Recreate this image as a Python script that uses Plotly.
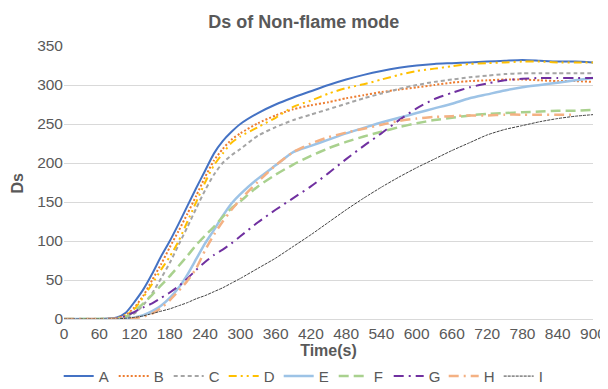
import plotly.graph_objects as go

time_s = [0, 60, 90, 105, 120, 135, 150, 165, 180, 195, 210, 225, 240, 255, 270, 285, 300,
          330, 360, 390, 420, 450, 480, 510, 540, 570, 600, 630, 660, 690, 720, 750, 780,
          810, 840, 870, 900]

A = [0, 0, 2, 8, 22, 38, 58, 80, 100, 122, 145, 168, 190, 212, 228, 240, 250,
     264, 275, 284, 292, 300, 307, 313, 318, 322, 325, 327, 328, 329, 330, 331, 332,
     331, 330, 330, 329]
B = [0, 0, 1, 5, 15, 30, 50, 70, 92, 113, 135, 158, 182, 203, 218, 230, 238,
     251, 261, 269, 274, 278, 283, 287, 291, 294, 297, 300, 303, 305, 306, 307, 307,
     306, 305, 305, 304]
C = [0, 0, 0, 2, 7, 18, 33, 52, 72, 95, 118, 142, 165, 185, 200, 210, 218,
     235, 246, 255, 262, 269, 276, 283, 289, 295, 300, 304, 307, 310, 312, 314, 315,
     315, 315, 315, 315]
D = [0, 0, 1, 5, 13, 28, 45, 63, 80, 100, 125, 150, 175, 197, 212, 226, 234,
     246, 258, 272, 280, 289, 296, 301, 307, 313, 318, 321, 324, 327, 328, 329, 330,
     330, 329, 329, 329]
E = [0, 0, 0, 0, 2, 5, 10, 17, 27, 40, 57, 77, 97, 114, 132, 148, 160,
     180, 197, 214, 222, 230, 238, 245, 252, 258, 264, 270, 276, 283, 288, 293, 297,
     300, 303, 306, 309]
F = [0, 0, 1, 3, 10, 20, 31, 43, 55, 68, 81, 95, 107, 118, 131, 142, 151,
     170, 185, 198, 209, 219, 227, 234, 240, 246, 251, 255, 258, 261, 263, 264, 265,
     266, 267, 267, 268]
G = [0, 0, 1, 4, 9, 15, 20, 27, 34, 42, 52, 63, 73, 82, 89, 97, 106,
     124, 140, 155, 170, 187, 205, 222, 238, 255, 270, 282, 290, 297, 302, 306, 308,
     309, 309, 309, 309]
H = [0, 0, 0, 0, 1, 3, 7, 14, 24, 36, 49, 65, 88, 108, 125, 140, 153,
     176, 197, 214, 225, 233, 239, 244, 249, 254, 257, 259, 260, 261, 261, 262, 262,
     262, 262, 262, None]
I = [0, 0, 0, 1, 2, 4, 7, 10, 13, 17, 21, 26, 30, 35, 40, 46, 52,
     65, 78, 93, 108, 124, 140, 155, 169, 182, 194, 205, 216, 226, 236, 243, 248,
     253, 257, 260, 262]

x_ticks = list(range(0, 901, 60))
y_ticks = list(range(0, 351, 50))

series = [
    ("A", A, "#4472C4", "solid", 2),
    ("B", B, "#ED7D31", "2px,2px", 2),
    ("C", C, "#A5A5A5", "4px,3px", 2),
    ("D", D, "#FFC000", "8px,4px,2px,4px,2px,4px", 2),
    ("E", E, "#9DC3E6", "solid", 2.5),
    ("F", F, "#A9D18E", "10px,5px", 2.5),
    ("G", G, "#7030A0", "10px,5px,2px,5px", 2),
    ("H", H, "#F4B183", "10px,5px,2px,5px", 2.5),
    ("I", I, "#404040", "3px,1px", 1),
]

fig = go.Figure()
for name, vals, color, dash, width in series:
    fig.add_trace(go.Scatter(
        x=time_s, y=vals, name=name, mode="lines",
        line=dict(color=color, dash=dash, width=width, shape="spline", smoothing=0.6),
    ))

font_family = "Liberation Sans, Arial, sans-serif"
fig.update_layout(
    width=600, height=381,
    margin=dict(l=56, r=15, t=38, b=70, autoexpand=False),
    paper_bgcolor="white", plot_bgcolor="white",
    font=dict(family=font_family, size=15, color="#595959"),
    title=dict(text="<b>Ds of Non-flame mode</b>", x=0.493, xanchor="center",
               xref="container", y=0.963, yanchor="middle", yref="container",
               font=dict(size=18, color="#595959")),
    xaxis=dict(range=[0, 900], tickvals=x_ticks, showgrid=False, zeroline=False,
               showline=True, linecolor="#D9D9D9", linewidth=1, ticks="", tickangle=0,
               automargin=False,
               title=dict(text="<b>Time(s)</b>", standoff=2, font=dict(size=16, color="#595959")),
               tickfont=dict(size=15.5, color="#595959")),
    yaxis=dict(range=[0, 350], tickvals=y_ticks, showgrid=True, gridcolor="#D9D9D9",
               gridwidth=1, zeroline=False, showline=False, ticks="", automargin=False,
               tickfont=dict(size=15.5, color="#595959")),
    legend=dict(orientation="h", x=0.497, xanchor="center", xref="container",
                y=-0.21, yanchor="middle", yref="paper",
                font=dict(size=15, color="#595959"), entrywidth=10, itemwidth=30,
                tracegroupgap=0),
    showlegend=True,
    annotations=[dict(text="<b>Ds</b>", textangle=-90, xref="paper", yref="paper",
                      x=-0.087, y=0.5, xanchor="center", yanchor="middle",
                      showarrow=False, font=dict(size=16, color="#595959"))],
)

fig.write_html("out.html")
